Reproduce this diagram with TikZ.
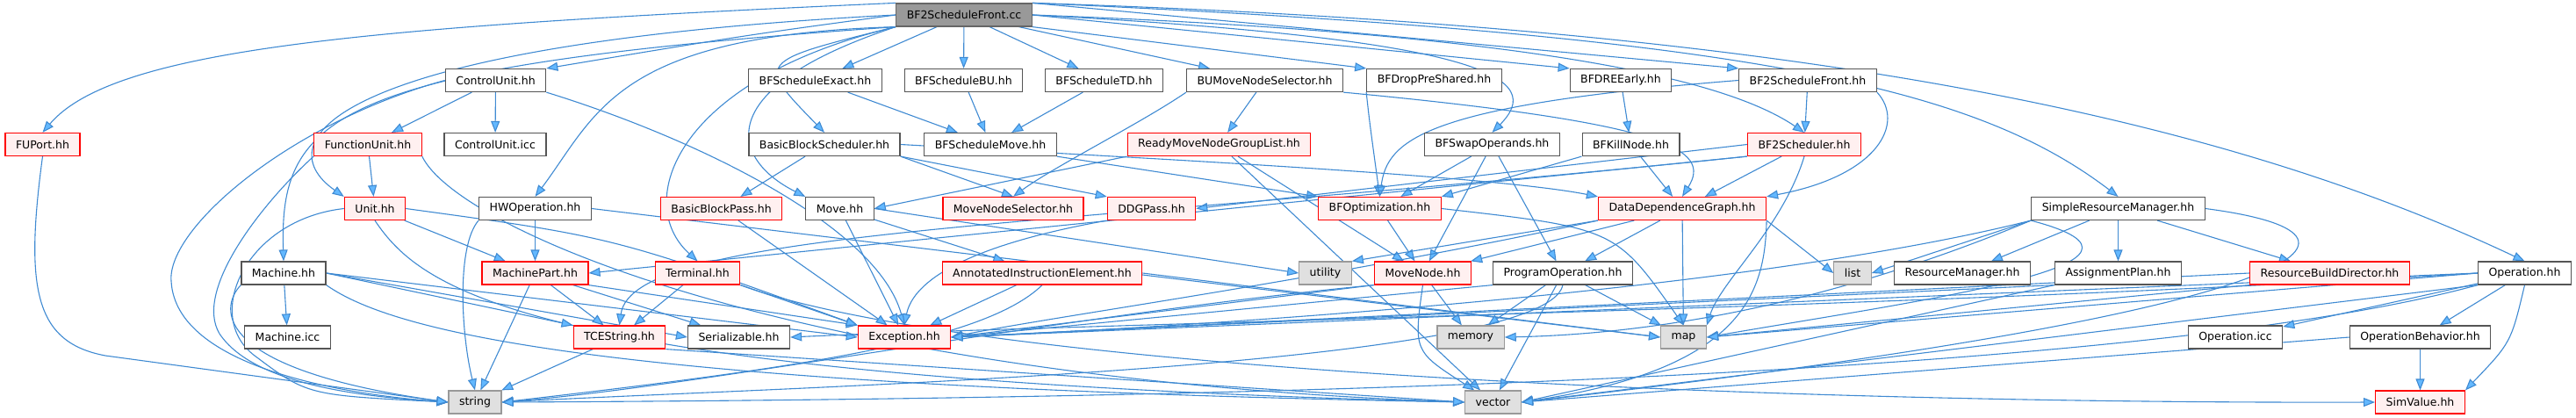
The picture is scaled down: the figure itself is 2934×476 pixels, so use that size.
\documentclass[tikz,border=0pt]{standalone}
\usepackage{fontspec}
\setmainfont{DejaVu Sans}
\usetikzlibrary{arrows.meta}
\definecolor{edgeblue}{HTML}{3F8AD2}
\definecolor{tipblue}{HTML}{63B8FF}
\definecolor{rootgray}{HTML}{999999}
\definecolor{boxgray}{HTML}{555555}
\definecolor{sysfill}{HTML}{E0E0E0}
\definecolor{sysline}{HTML}{999999}
\definecolor{redfill}{HTML}{FFF0F0}
\pgfdeclarelayer{edges}
\pgfsetlayers{edges,main}
\tikzset{
	file/.style={draw=boxgray,fill=white,line width=1.2pt,minimum height=26pt,inner xsep=12pt,inner ysep=0pt,font=\fontsize{12.5}{14}\selectfont},
	rootfile/.style={file,fill=rootgray,draw=black!60},
	trunc/.style={file,draw=red,fill=redfill},
	sys/.style={file,draw=sysline,fill=sysfill},
	incl/.style={draw=edgeblue,line width=1.1pt,-{Triangle[length=13pt,width=10pt,fill=tipblue]}}
}
\begin{document}
\begin{tikzpicture}[x=1pt,y=-1pt]
	\useasboundingbox (0,0) rectangle (2934,476);
	% files
	\node[rootfile] (root) at (1098,17) {BF2ScheduleFront.cc};
	\node[file] (ctrlu) at (564.5,91.5) {ControlUnit.hh};
	\node[file] (bfexact) at (928.5,91.5) {BFScheduleExact.hh};
	\node[file] (bfbu) at (1097.5,91.5) {BFScheduleBU.hh};
	\node[file] (bftd) at (1257.5,91.5) {BFScheduleTD.hh};
	\node[file] (bumns) at (1440.5,91.5) {BUMoveNodeSelector.hh};
	\node[file] (bfdrop) at (1633.5,91.5) {BFDropPreShared.hh};
	\node[file] (bfdre) at (1846,91.5) {BFDREEarly.hh};
	\node[file] (bffronth) at (2059,91.5) {BF2ScheduleFront.hh};
	\node[trunc] (fuport) at (48.5,164.5) {FUPort.hh};
	\node[trunc] (funit) at (419,164.5) {FunctionUnit.hh};
	\node[file] (ctrlicc) at (564,164.5) {ControlUnit.icc};
	\node[file] (bbsched) at (939,164.5) {BasicBlockScheduler.hh};
	\node[file] (bfmove) at (1128,164.5) {BFScheduleMove.hh};
	\node[trunc] (ready) at (1388.5,164.5) {ReadyMoveNodeGroupList.hh};
	\node[file] (bfswap) at (1699.5,164.5) {BFSwapOperands.hh};
	\node[file] (bfkill) at (1857.5,164.5) {BFKillNode.hh};
	\node[trunc] (bf2sched) at (2055,164.5) {BF2Scheduler.hh};
	\node[trunc] (unit) at (427,237.5) {Unit.hh};
	\node[file] (hwop) at (609.5,237.5) {HWOperation.hh};
	\node[trunc] (bbpass) at (821.5,237.5) {BasicBlockPass.hh};
	\node[file] (move) at (956.5,237.5) {Move.hh};
	\node[trunc] (mnsel) at (1154,237.5) {MoveNodeSelector.hh};
	\node[trunc] (ddgpass) at (1311.5,237.5) {DDGPass.hh};
	\node[trunc] (bfopt) at (1571.5,237.5) {BFOptimization.hh};
	\node[trunc] (ddg) at (1916,237.5) {DataDependenceGraph.hh};
	\node[file] (srm) at (2412.5,237.5) {SimpleResourceManager.hh};
	\node[file] (machine) at (323,311) {Machine.hh};
	\node[trunc] (mpart) at (609.5,311) {MachinePart.hh};
	\node[trunc] (term) at (794.5,311) {Terminal.hh};
	\node[trunc] (aie) at (1187,311) {AnnotatedInstructionElement.hh};
	\node[sys] (utility) at (1509.5,311) {utility};
	\node[trunc] (mnode) at (1620.5,311) {MoveNode.hh};
	\node[file] (progop) at (1780,311) {ProgramOperation.hh};
	\node[sys] (list) at (2110,311) {list};
	\node[file] (resmgr) at (2235,311) {ResourceManager.hh};
	\node[file] (aplan) at (2412.5,311) {AssignmentPlan.hh};
	\node[trunc] (rbd) at (2653.5,311) {ResourceBuildDirector.hh};
	\node[file] (oper) at (2875.5,311) {Operation.hh};
	\node[file] (micc) at (327.5,384) {Machine.icc};
	\node[trunc] (tcestr) at (705.5,384) {TCEString.hh};
	\node[file] (serial) at (841.5,384) {Serializable.hh};
	\node[trunc] (except) at (1030,384) {Exception.hh};
	\node[sys] (memory) at (1675,384) {memory};
	\node[sys] (map) at (1917.5,384) {map};
	\node[file] (opicc) at (2546,384) {Operation.icc};
	\node[file] (opbeh) at (2756.5,384) {OperationBehavior.hh};
	\node[sys] (string) at (541,458) {string};
	\node[sys] (vector) at (1700.5,458) {vector};
	\node[trunc] (simval) at (2756.5,458) {SimValue.hh};
	% includes
	\begin{pgfonlayer}{edges}
	\draw[incl] (root.north west) .. controls (420,30) and (130,55) .. (fuport.north);
	\draw[incl] (root.west) .. controls (380,50) and (300,160) .. (unit.north west);
	\draw[incl] (root.south west) .. controls (380,75) and (318,130) .. (machine.north);
	\draw[incl] (root.west) .. controls (850,40) .. (ctrlu.north east);
	\draw[incl] (root.south west) .. controls (700,40) and (680,130) .. (hwop.north);
	\draw[incl] (root.south west) .. controls (770,90) and (720,230) .. (term.north);
	\draw[incl] (root.south west) .. controls (860,70) .. (bbsched.north);
	\draw[incl] (root.south west) .. controls (810,100) and (830,180) .. (move.north west);
	\draw[incl] (root) -- (bfexact);
	\draw[incl] (root) -- (bfbu);
	\draw[incl] (root) -- (bftd);
	\draw[incl] (root) -- (bumns);
	\draw[incl] (root.south east) -- (bfdrop.north west);
	\draw[incl] (root.east) .. controls (1700,45) and (1760,90) .. (bfswap.north);
	\draw[incl] (root.east) -- (bfdre.north west);
	\draw[incl] (root.north east) -- (bffronth.north west);
	\draw[incl] (root.east) .. controls (1800,40) and (1980,100) .. (bf2sched.north);
	\draw[incl] (root.north east) .. controls (2000,40) and (2250,100) .. (srm.north);
	\draw[incl] (root.north east) .. controls (2000,30) and (2500,120) .. (oper.north);
	\draw[incl] (fuport.south) .. controls (28,330) and (40,390) .. (120,405) -- (string.west);
	\draw[incl] (ctrlu) -- (funit);
	\draw[incl] (ctrlu) -- (ctrlicc);
	\draw[incl] (ctrlu.west) .. controls (330,140) and (190,260) .. (195,320) .. controls (200,420) and (400,450) .. (string.west);
	\draw[incl] (ctrlu.south east) .. controls (800,160) and (1000,260) .. (except.north);
	\draw[incl] (funit) -- (unit);
	\draw[incl] (funit.south west) .. controls (300,230) and (220,330) .. (250,380) .. controls (290,440) and (420,452) .. (string.west);
	\draw[incl] (funit.south east) .. controls (520,260) and (900,430) .. (vector.west);
	\draw[incl] (unit) -- (mpart);
	\draw[incl] (unit.west) .. controls (280,250) and (230,360) .. (290,405) .. controls (350,450) .. (string.west);
	\draw[incl] (unit.south) .. controls (480,330) and (600,430) .. (vector.west);
	\draw[incl] (unit.east) .. controls (700,270) .. (except.north west);
	\draw[incl] (machine) -- (micc);
	\draw[incl] (machine.south west) .. controls (250,350) and (240,420) .. (string.west);
	\draw[incl] (machine.east) -- (serial.west);
	\draw[incl] (machine.east) -- (tcestr.north west);
	\draw[incl] (machine.east) -- (except.west);
	\draw[incl] (machine.south east) .. controls (450,380) and (700,440) .. (vector.west);
	\draw[incl] (hwop) -- (mpart);
	\draw[incl] (hwop.south west) .. controls (520,280) and (525,380) .. (string.north);
	\draw[incl] (hwop.east) -- (map.west);
	\draw[incl] (mpart) -- (string);
	\draw[incl] (mpart) -- (tcestr);
	\draw[incl] (mpart) -- (serial);
	\draw[incl] (mpart.south east) -- (except.north west);
	\draw[incl] (term) -- (tcestr);
	\draw[incl] (term.south east) -- (except.north west);
	\draw[incl] (term.south east) .. controls (1100,420) and (2000,460) .. (simval.west);
	\draw[incl] (tcestr) -- (string);
	\draw[incl] (tcestr.south east) -- (vector.west);
	\draw[incl] (bbsched) -- (bbpass);
	\draw[incl] (bbsched.south east) -- (mnsel.north);
	\draw[incl] (bbsched.south east) -- (ddgpass.north west);
	\draw[incl] (bbsched.east) .. controls (1300,180) and (1700,200) .. (ddg.north west);
	\draw[incl] (bbpass) -- (except);
	\draw[incl] (move) -- (aie);
	\draw[incl] (move) -- (except);
	\draw[incl] (move.east) -- (utility.west);
	\draw[incl] (ddgpass.south west) .. controls (1100,280) and (1040,320) .. (except.north);
	\draw[incl] (aie) -- (except);
	\draw[incl] (aie.south) .. controls (1120,390) and (900,420) .. (string.east);
	\draw[incl] (aie.east) -- (map.west);
	\draw[incl] (bfexact) -- (bfmove);
	\draw[incl] (bfbu) -- (bfmove);
	\draw[incl] (bftd) -- (bfmove);
	\draw[incl] (bfmove.south east) -- (bfopt.north west);
	\draw[incl] (bumns.south west) .. controls (1300,140) and (1200,190) .. (mnsel.north);
	\draw[incl] (bumns) -- (ready);
	\draw[incl] (bumns.south east) .. controls (1900,140) and (1950,170) .. (ddg.north);
	\draw[incl] (ready.south west) -- (move.east);
	\draw[incl] (ready) -- (mnode);
	\draw[incl] (ready) -- (vector);
	\draw[incl] (bfdrop.south west) .. controls (1560,140) .. (bfopt.north);
	\draw[incl] (bfswap) -- (bfopt);
	\draw[incl] (bfswap) -- (mnode);
	\draw[incl] (bfswap) -- (progop);
	\draw[incl] (bfdre) -- (bfkill);
	\draw[incl] (bfkill.south west) -- (bfopt.north east);
	\draw[incl] (bfkill) -- (ddg);
	\draw[incl] (bffronth) -- (bf2sched);
	\draw[incl] (bffronth.south east) .. controls (2170,140) and (2140,200) .. (ddg.north east);
	\draw[incl] (bffronth.west) .. controls (1620,120) and (1580,160) .. (bfopt.north);
	\draw[incl] (bf2sched.west) -- (ddgpass.east);
	\draw[incl] (bf2sched) -- (ddg);
	\draw[incl] (bf2sched.south) .. controls (2030,260) and (1960,320) .. (map.north east);
	\draw[incl] (bf2sched.south west) -- (mpart.east);
	\draw[incl] (bf2sched.south west) .. controls (1200,260) and (720,260) .. (tcestr.north);
	\draw[incl] (bfopt) -- (mnode);
	\draw[incl] (bfopt.east) .. controls (1840,260) .. (map.north);
	\draw[incl] (ddg) -- (mnode);
	\draw[incl] (ddg) -- (progop);
	\draw[incl] (ddg.south west) -- (utility.north east);
	\draw[incl] (ddg.south east) -- (list.west);
	\draw[incl] (ddg) -- (map);
	\draw[incl] (ddg.south east) .. controls (2010,330) and (1990,420) .. (vector.east);
	\draw[incl] (ddg.south west) .. controls (1500,320) and (1200,360) .. (except.east);
	\draw[incl] (mnode) -- (memory);
	\draw[incl] (mnode.south) .. controls (1610,400) .. (vector);
	\draw[incl] (mnode.south west) -- (except.east);
	\draw[incl] (mnode.south west) .. controls (1200,360) and (800,440) .. (string.east);
	\draw[incl] (progop) -- (memory);
	\draw[incl] (progop) -- (map);
	\draw[incl] (progop) -- (vector);
	\draw[incl] (progop.south) .. controls (1760,420) and (900,440) .. (string.east);
	\draw[incl] (progop.south west) -- (except.east);
	\draw[incl] (srm.south west) -- (list.east);
	\draw[incl] (srm) -- (resmgr);
	\draw[incl] (srm) -- (aplan);
	\draw[incl] (srm) -- (rbd);
	\draw[incl] (srm.south west) .. controls (2500,300) and (2200,340) .. (map.east);
	\draw[incl] (srm.east) .. controls (2760,270) and (2600,360) .. (vector.east);
	\draw[incl] (srm.south west) .. controls (2000,330) and (1400,370) .. (except.east);
	\draw[incl] (srm.south west) .. controls (2100,340) and (1900,380) .. (memory.east);
	\draw[incl] (aplan.south west) -- (vector.east);
	\draw[incl] (aplan.south west) -- (except.east);
	\draw[incl] (rbd.south west) -- (map.east);
	\draw[incl] (rbd.west) -- (except.east);
	\draw[incl] (oper) -- (opicc);
	\draw[incl] (oper) -- (opbeh);
	\draw[incl] (oper.south) .. controls (2860,390) .. (simval.north east);
	\draw[incl] (oper.south west) -- (vector.east);
	\draw[incl] (oper.south west) .. controls (2400,440) and (1200,455) .. (string.east);
	\draw[incl] (oper.west) .. controls (2200,350) and (1200,370) .. (serial.east);
	\draw[incl] (oper.west) -- (map.east);
	\draw[incl] (oper.west) -- (except.east);
	\draw[incl] (opbeh) -- (simval);
	\draw[incl] (opbeh.west) -- (vector.east);
	\end{pgfonlayer}
\end{tikzpicture}
\end{document}
